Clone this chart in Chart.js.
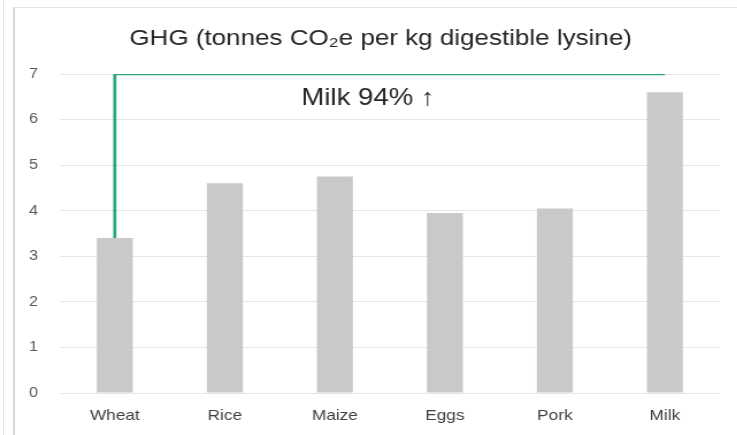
<!DOCTYPE html>
<html>
<head>
<meta charset="utf-8">
<script src="https://cdn.jsdelivr.net/npm/chart.js@4/dist/chart.umd.min.js"></script>
<style>
  html, body { margin: 0; padding: 0; background: #ffffff; }
  #wrap { position: relative; width: 737px; height: 435px; overflow: hidden; }
  #frame { position: absolute; left: 13px; top: 7px; width: 740px; height: 440px;
           border-left: 2px solid #d6d6d6; border-top: 1px solid #e2e2e2; box-sizing: border-box; }
  #edge { position: absolute; left: 3px; top: 0; width: 1px; height: 435px; background: #e6e6e6; }
  /* the chart is laid out on a narrower canvas and widened, giving the broad lettering */
  #stretch { position: absolute; left: 0; top: 0; width: 641px; height: 435px;
             transform: scaleX(1.15); transform-origin: 0 0; }
  canvas { display: block; }
</style>
</head>
<body>
<div id="wrap">
  <div id="edge"></div>
  <div id="frame"></div>
  <div id="stretch"><canvas id="c" width="641" height="435"></canvas></div>
</div>
<script>
// GHG intensity per kg of digestible lysine, by food
const categories = ['Wheat', 'Rice', 'Maize', 'Eggs', 'Pork', 'Milk'];
const ghgValues = [3.4, 4.6, 4.75, 3.95, 4.05, 6.6];
const yTicks = [0, 1, 2, 3, 4, 5, 6, 7];

// Bracket linking Wheat to Milk, drawn at the top of the axis
const bracketTop = 7;
const bracketPoints = [
  { x: 'Wheat', y: ghgValues[0] },
  { x: 'Wheat', y: bracketTop },
  { x: 'Milk', y: bracketTop }
];
const chartTitle = 'GHG (tonnes CO\u2082e per kg digestible lysine)';
const bracketLabel = 'Milk 94% \u2191';

const FONT = '"Liberation Sans", Arial, sans-serif';

const textPlugin = {
  id: 'titleAndLabel',
  afterDatasetsDraw(chart) {
    const { ctx, chartArea } = chart;
    ctx.save();
    ctx.fillStyle = '#262626';
    ctx.textAlign = 'center';
    ctx.textBaseline = 'middle';
    ctx.font = '22.6px ' + FONT;
    ctx.fillText(chartTitle, 331, 39);
    ctx.font = '24px ' + FONT;
    ctx.fillText(bracketLabel, chartArea.left + 268, chartArea.top + 24);
    ctx.restore();
  }
};

new Chart(document.getElementById('c'), {
  type: 'bar',
  data: {
    labels: categories,
    datasets: [
      {
        type: 'line',
        data: bracketPoints,
        borderColor: '#2aa582',
        borderWidth: 2.7,
        pointRadius: 0,
        fill: false,
        tension: 0,
        order: 0
      },
      {
        data: ghgValues,
        backgroundColor: '#c9c9c9',
        borderWidth: 0,
        categoryPercentage: 1,
        barPercentage: 0.327,
        order: 1
      }
    ]
  },
  options: {
    responsive: false,
    animation: false,
    events: [],
    layout: { padding: { left: 0, right: 15, bottom: 10, top: 74 } },
    plugins: {
      legend: { display: false },
      tooltip: { enabled: false },
      title: { display: false }
    },
    scales: {
      x: {
        offset: true,
        afterFit: (axis) => { axis.height = 32; },
        grid: { display: false, drawTicks: false },
        border: { display: false },
        ticks: {
          color: '#404040',
          padding: 14,
          maxRotation: 0,
          font: { family: FONT, size: 15 }
        }
      },
      y: {
        min: 0,
        max: 7,
        afterBuildTicks: (axis) => { axis.ticks = yTicks.map(v => ({ value: v })); },
        afterFit: (axis) => { axis.width = 52; },
        grid: { color: '#e6e6e6', lineWidth: 1, drawTicks: false },
        border: { display: false },
        ticks: {
          color: '#595959',
          padding: 19,
          font: { family: FONT, size: 14 }
        }
      }
    }
  },
  plugins: [textPlugin]
});
</script>
</body>
</html>
